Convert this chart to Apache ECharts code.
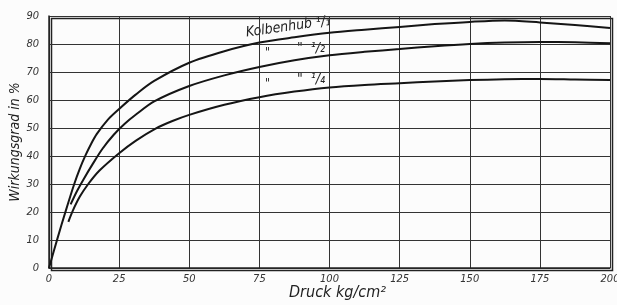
<!DOCTYPE html>
<html>
<head>
<meta charset="utf-8">
<script src="https://cdn.jsdelivr.net/npm/echarts@6/dist/echarts.min.js"></script>
<style>
  html, body { margin: 0; padding: 0; background: #fcfcfc; }
  #chart { width: 617px; height: 305px; }
</style>
</head>
<body>
<div id="chart"></div>
<script>
// Druck kg/cm2 -> Wirkungsgrad in %
const hubVoll = [[0, 0], [3, 10.5], [6, 20.5], [9, 30], [11, 35.5], [13, 40.2], [15, 44.3], [17, 47.8], [21, 53], [25, 56.8], [31, 62], [37.5, 66.8], [50, 73.3], [62.5, 77.4], [75, 80.5], [87.5, 82.4], [100, 84], [112.5, 85.1], [125, 86.1], [137.5, 87.1], [150, 87.9], [162.5, 88.4], [175, 87.7], [187.5, 86.8], [200, 85.7]]
const hubHalb = [[7.7, 22.7], [10, 27.5], [12.5, 32], [15.5, 37], [19, 42.5], [23, 47.5], [27, 51.5], [31, 54.8], [37.5, 59.5], [50, 65], [62.5, 68.8], [75, 71.8], [87.5, 74.2], [100, 76], [112.5, 77.2], [125, 78.2], [137.5, 79.2], [150, 80], [162.5, 80.5], [175, 80.7], [187.5, 80.6], [200, 80.3]]
const hubViertel = [[6.9, 16.5], [8.5, 20.5], [11, 25.5], [14, 30], [18, 34.8], [25, 41], [31, 45.5], [38, 49.8], [44, 52.5], [50, 54.7], [62.5, 58.3], [75, 61], [87.5, 63], [100, 64.5], [112.5, 65.4], [125, 66], [137.5, 66.6], [150, 67.1], [162.5, 67.4], [175, 67.5], [187.5, 67.3], [200, 67.1]]

const xTicks = [0, 25, 50, 75, 100, 125, 150, 175, 200]
const yTicks = [0, 10, 20, 30, 40, 50, 60, 70, 80, 90]

const font = '"DejaVu Sans Condensed", "DejaVu Sans", sans-serif'
const lineColor = '#151515'

const chart = echarts.init(document.getElementById('chart'))

const curve = (data) => ({
  type: 'line',
  data: data,
  smooth: 0.3,
  showSymbol: false,
  lineStyle: { color: lineColor, width: 2 },
  silent: true
})

chart.setOption({
  animation: false,
  backgroundColor: '#fcfcfc',
  grid: { left: 49, right: 7, top: 16, bottom: 37, outerBoundsMode: 'none' },
  xAxis: {
    type: 'value',
    min: xTicks[0],
    max: xTicks[xTicks.length - 1],
    interval: 25,
    name: 'Druck kg/cm²',
    nameLocation: 'middle',
    nameGap: 17,
    nameMoveOverlap: false,
    nameTextStyle: { fontFamily: font, fontStyle: 'italic', fontSize: 16, color: '#222', padding: [0, 0, 0, 16] },
    axisLine: { lineStyle: { color: '#222', width: 1.5 } },
    axisTick: { show: false },
    axisLabel: { fontFamily: font, fontStyle: 'italic', fontSize: 11, color: '#333', margin: 6 },
    splitLine: { show: true, lineStyle: { color: '#333', width: 1 } }
  },
  yAxis: {
    type: 'value',
    min: yTicks[0],
    max: yTicks[yTicks.length - 1],
    interval: 10,
    name: 'Wirkungsgrad in %',
    nameLocation: 'middle',
    nameGap: 27,
    nameMoveOverlap: false,
    nameTextStyle: { fontFamily: font, fontStyle: 'italic', fontSize: 14, color: '#222' },
    axisLine: { show: true, lineStyle: { color: '#222', width: 1.5 } },
    axisTick: { show: false },
    axisLabel: { fontFamily: font, fontStyle: 'italic', fontSize: 11, color: '#333', margin: 10 },
    splitLine: { show: true, lineStyle: { color: '#333', width: 1 } }
  },
  series: [curve(hubVoll), curve(hubHalb), curve(hubViertel)],
  graphic: [
    // outer frame
    { type: 'rect', left: 49, top: 16, shape: { width: 561, height: 252 }, style: { fill: 'none', stroke: '#222', lineWidth: 1.5 }, silent: true },
    {
      type: 'text', x: 245, y: 26, rotation: 8 * Math.PI / 180,
      style: { text: 'Kolbenhub ¹/₁', fontFamily: font, fontStyle: 'italic', fontSize: 14, fill: '#222' }
    },
    { type: 'text', x: 265, y: 47, style: { text: '"', fontFamily: font, fontStyle: 'italic', fontSize: 12, fill: '#222' } },
    { type: 'text', x: 297, y: 41, style: { text: '"  ¹/₂', fontFamily: font, fontStyle: 'italic', fontSize: 14, fill: '#222' } },
    { type: 'text', x: 265, y: 78, style: { text: '"', fontFamily: font, fontStyle: 'italic', fontSize: 12, fill: '#222' } },
    { type: 'text', x: 297, y: 72, style: { text: '"  ¹/₄', fontFamily: font, fontStyle: 'italic', fontSize: 14, fill: '#222' } }
  ]
})
</script>
</body>
</html>
